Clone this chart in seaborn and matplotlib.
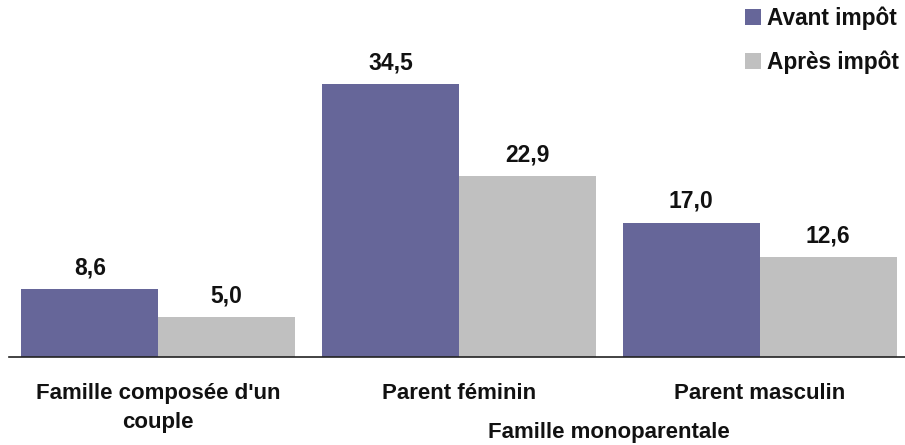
import matplotlib
matplotlib.use("Agg")
import matplotlib.pyplot as plt
import seaborn as sns
import pandas as pd
from matplotlib.patches import Patch

categories = ["Famille composée d'un\ncouple", "Parent féminin", "Parent masculin"]
series = ["Avant impôt", "Après impôt"]
avant = [8.6, 34.5, 17.0]
apres = [5.0, 22.9, 12.6]
group_label = "Famille monoparentale"
colors = ["#666699", "#C0C0C0"]

df = pd.DataFrame({
    "cat": categories * 2,
    "serie": [series[0]] * 3 + [series[1]] * 3,
    "val": avant + apres,
})

sns.set_style("white")
plt.rcParams['font.family'] = ['Liberation Sans', 'DejaVu Sans']

W, H = 905, 445
fig = plt.figure(figsize=(W / 100, H / 100), dpi=100)
ax = fig.add_axes([9 / W, (H - 357) / H, 896 / W, 357 / H])

sns.barplot(data=df, x="cat", y="val", hue="serie", order=categories,
            hue_order=series, palette=colors, width=0.91, gap=0,
            saturation=1, ax=ax, legend=False, errorbar=None, linewidth=0)

for cont in ax.containers:
    labels = [f"{v:.1f}".replace(".", ",") for v in cont.datavalues]
    ax.bar_label(cont, labels=labels, padding=7, fontsize=16.5,
                 fontweight="bold", color="#111111")

ax.set_xlim(-0.496, 2.483)
ax.set_ylim(0, 45.13)
ax.set_xlabel("")
ax.set_ylabel("")
ax.set_yticks([])
ax.tick_params(axis="x", length=0, pad=19)
ax.set_xticks(range(len(categories)))
ax.set_xticklabels(categories, fontsize=16, fontweight="bold", color="#111111",
                   linespacing=1.45)
for lbl in ax.get_xticklabels():
    lbl.set_verticalalignment("top")
for s in ["top", "right", "left"]:
    ax.spines[s].set_visible(False)
ax.spines["bottom"].set_color("#222222")
ax.spines["bottom"].set_linewidth(1.2)

fig.text(609 / W, 2 / H, group_label, ha="center", va="bottom",
         fontsize=16, fontweight="bold", color="#111111")

handles = [Patch(facecolor=c, edgecolor="none") for c in colors]
leg = fig.legend(handles, series, loc="upper left",
                 bbox_to_anchor=(738 / W, 1 - 0 / H), frameon=False,
                 handlelength=0.7, handleheight=0.7, handletextpad=0.3,
                 labelspacing=0.88, prop={"weight": "bold", "size": 16.3},
                 borderaxespad=0, borderpad=0.3)
for t in leg.get_texts():
    t.set_color("#111111")

fig.savefig("out.png", dpi=100)
